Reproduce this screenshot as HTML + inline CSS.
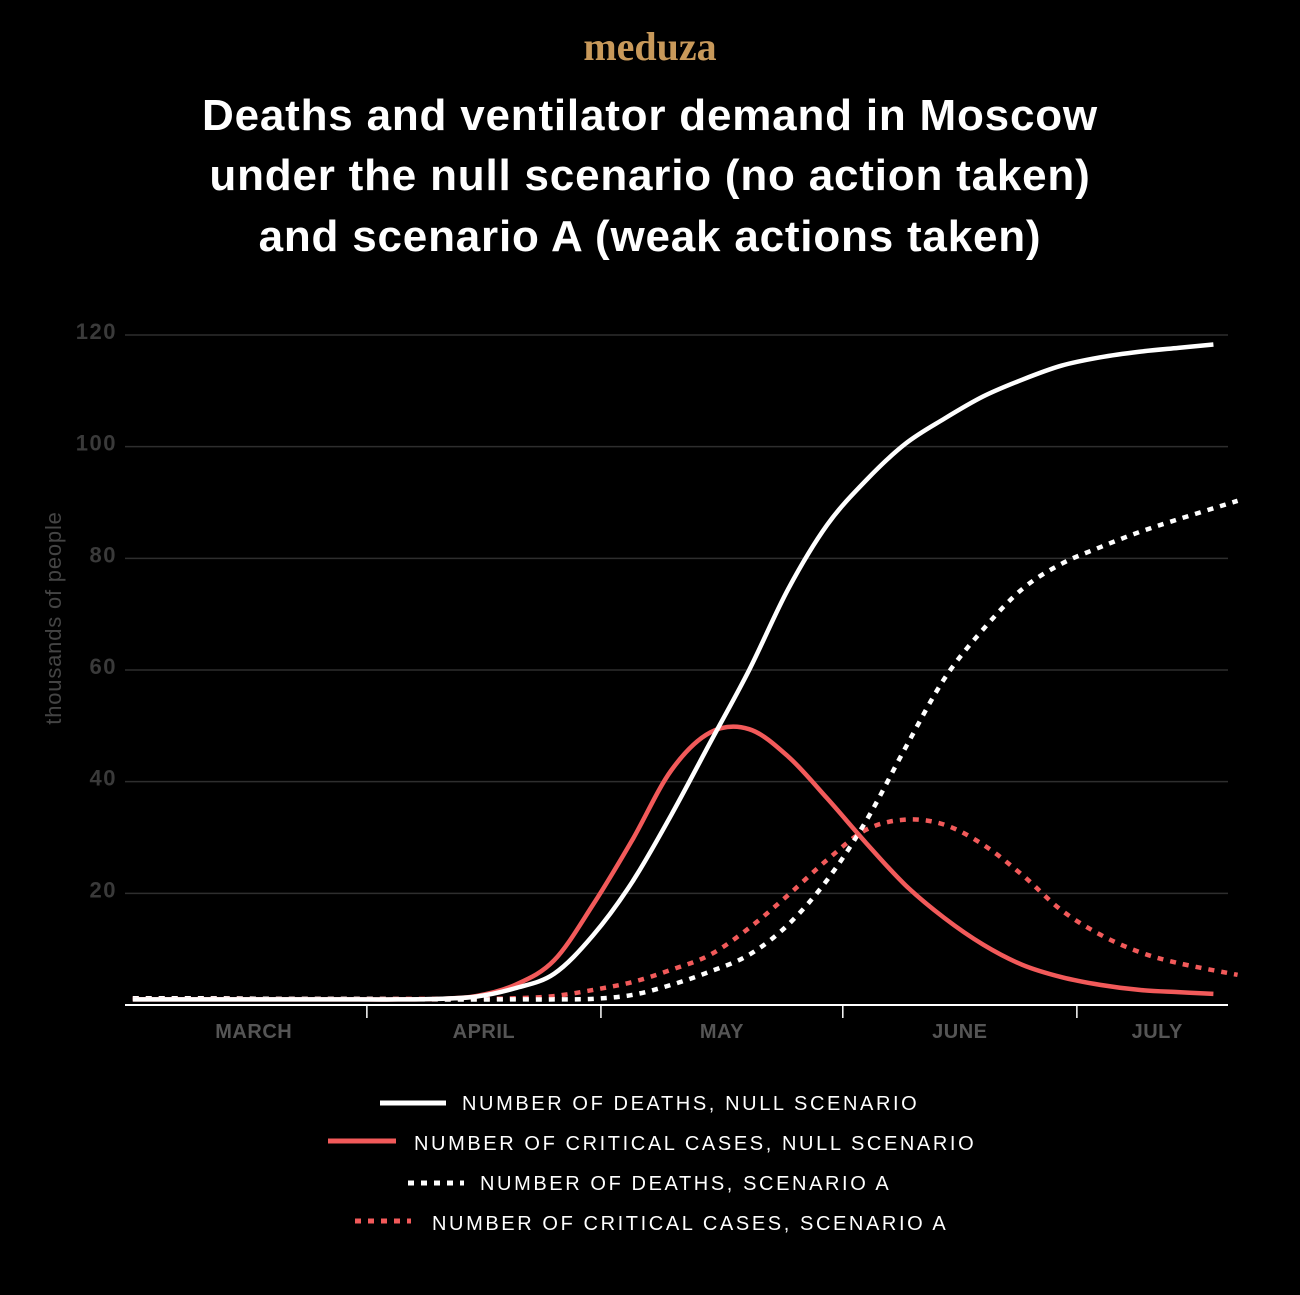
<!DOCTYPE html>
<html><head><meta charset="utf-8"><style>
html,body{margin:0;padding:0;background:#000;}
body{width:1300px;height:1290px;overflow:hidden;font-family:"Liberation Sans",sans-serif;}
</style></head><body>
<svg width="1300" height="1290" viewBox="0 0 1300 1290">
<text x="650" y="60" text-anchor="middle" font-family="Liberation Serif,serif" font-weight="bold" font-size="40" fill="#c8995a">meduza</text>
<g font-weight="bold" font-size="44" fill="#fff" text-anchor="middle" letter-spacing="0.8">
<text x="650" y="130">Deaths and ventilator demand in Moscow</text>
<text x="650" y="190">under the null scenario (no action taken)</text>
<text x="650" y="251">and scenario A (weak actions taken)</text>
</g>
<g id="grid"></g>
<g id="xaxis"></g>
<g id="lines"></g>
<text transform="translate(61,618) rotate(-90)" text-anchor="middle" font-size="22" fill="#444" letter-spacing="0.8">thousands of people</text>
<g font-size="20" fill="#fff" letter-spacing="2.6">
<g><line x1="380" y1="1103" x2="446" y2="1103" stroke="#fff" stroke-width="5"/><text x="462" y="1110">NUMBER OF DEATHS, NULL SCENARIO</text></g>
<g><line x1="328" y1="1141" x2="396" y2="1141" stroke="#f25a5a" stroke-width="5"/><text x="414" y="1150">NUMBER OF CRITICAL CASES, NULL SCENARIO</text></g>
<g><line x1="408" y1="1183" x2="464" y2="1183" stroke="#fff" stroke-width="5" stroke-dasharray="6 7"/><text x="480" y="1190">NUMBER OF DEATHS, SCENARIO A</text></g>
<g><line x1="355" y1="1221" x2="411" y2="1221" stroke="#f25a5a" stroke-width="5" stroke-dasharray="6 7"/><text x="432" y="1230">NUMBER OF CRITICAL CASES, SCENARIO A</text></g>
</g>
</svg>
<script>
const yTicks=[20,40,60,80,100,120];
const monthLabels=["MARCH","APRIL","MAY","JUNE","JULY"];
const monthStarts=[0,31,61,92,122,142];
const deathsNullDays=[1,10,20,30,35,40,45,50,55,60,65,70,75,80,85,90,95,100,105,110,115,120,125,130,135,139.5];
const deathsNull=[1,1,1,1,1,1.1,1.5,3,5.6,12.5,22,34,47,60,74.5,86,94,100.5,105,109,112,114.5,116,117,117.7,118.3];
const critNullDays=[1,10,20,30,35,40,45,50,55,60,65,70,75,80,85,90,95,100,105,110,115,120,125,130,135,139.5];
const critNull=[1,1,1,1,1,1.1,1.6,3.6,8,18,29.5,42,48.8,49.4,44.5,37,29,21.5,15.6,10.8,7.2,5,3.6,2.7,2.3,2];
const deathsADays=[1,10,20,30,40,50,55,60,65,70,75,80,85,90,95,100,105,110,115,120,125,130,135,142.6];
const deathsA=[1.2,1.2,1.1,1.1,1,1,1,1.1,1.8,3.6,6,9,14.4,22.4,33,46,58.4,67.3,74.5,79,82,84.7,87,90.3];
const critADays=[1,10,20,30,40,45,50,55,60,65,70,75,80,85,90,95,100,105,110,115,120,125,130,135,142.6];
const critA=[1.2,1.2,1.1,1.1,1.1,1.1,1.2,1.6,2.7,4.1,6.3,9,13.8,19.7,26,31.4,33.2,32.3,28.7,23.3,17,12.6,9.5,7.5,5.4];
const NS="http://www.w3.org/2000/svg";
const X=d=>125+d*(710/91);
const Y=v=>1005-v*(670/120);
const grid=document.getElementById('grid');
yTicks.forEach(t=>{
 const l=document.createElementNS(NS,'line');
 l.setAttribute('x1',125);l.setAttribute('x2',1228);l.setAttribute('y1',Y(t));l.setAttribute('y2',Y(t));
 l.setAttribute('stroke','#2e2e2e');l.setAttribute('stroke-width','1.5');
 
 
 grid.appendChild(l);
 const tx=document.createElementNS(NS,'text');
 tx.setAttribute('x',117);tx.setAttribute('y',Y(t)+4);tx.setAttribute('text-anchor','end');
 tx.setAttribute('font-size','22');tx.setAttribute('font-weight','bold');tx.setAttribute('fill','#3a3a3a');tx.setAttribute('letter-spacing','1.5');
 tx.textContent=t;
 
 
 grid.appendChild(tx);
});
const xa=document.getElementById('xaxis');
const base=document.createElementNS(NS,'line');
base.setAttribute('x1',125);base.setAttribute('x2',1228);base.setAttribute('y1',1005);base.setAttribute('y2',1005);
base.setAttribute('stroke','#fff');base.setAttribute('stroke-width','2');


xa.appendChild(base);
monthLabels.forEach((m,i)=>{
 if(i>0){const tk=document.createElementNS(NS,'line');
 tk.setAttribute('x1',X(monthStarts[i]));tk.setAttribute('x2',X(monthStarts[i]));tk.setAttribute('y1',1005);tk.setAttribute('y2',1018);
 tk.setAttribute('stroke','#fff');tk.setAttribute('stroke-width','1.5');
 
 
 xa.appendChild(tk);}
 const tx=document.createElementNS(NS,'text');
 const mid=i==0?X(16.5):(i==4?X(132.3):(X(monthStarts[i])+X(monthStarts[i+1]))/2);
 tx.setAttribute('x',mid);tx.setAttribute('y',1038);tx.setAttribute('text-anchor','middle');
 tx.setAttribute('font-size','20');tx.setAttribute('font-weight','bold');tx.setAttribute('fill','#555');tx.setAttribute('letter-spacing','0.5');
 tx.textContent=m;
 
 
 xa.appendChild(tx);
});
function path(xs,vs){
 const p=xs.map((d,i)=>[X(d),Y(vs[i])]);
 let s='M'+p[0][0]+','+p[0][1];
 for(let i=0;i<p.length-1;i++){
  const p0=p[i-1]||p[i],p1=p[i],p2=p[i+1],p3=p[i+2]||p2;
  const c1=[p1[0]+(p2[0]-p0[0])/6,p1[1]+(p2[1]-p0[1])/6];
  const c2=[p2[0]-(p3[0]-p1[0])/6,p2[1]-(p3[1]-p1[1])/6];
  s+=' C'+c1+' '+c2+' '+p2;
 }
 return s;
}
const lines=document.getElementById('lines');
[[critADays,critA,'#f25a5a',true,'line-critical-scenario-a'],
 [deathsADays,deathsA,'#fff',true,'line-deaths-scenario-a'],
 [critNullDays,critNull,'#f25a5a',false,'line-critical-null'],
 [deathsNullDays,deathsNull,'#fff',false,'line-deaths-null']].forEach(s=>{
 const p=document.createElementNS(NS,'path');
 p.setAttribute('d',path(s[0],s[1]));p.setAttribute('fill','none');p.setAttribute('stroke',s[2]);
 p.setAttribute('stroke-width','4.5');
 if(s[3])p.setAttribute('stroke-dasharray','6 7');
 
 
 lines.appendChild(p);
});
</script>
</body></html>
